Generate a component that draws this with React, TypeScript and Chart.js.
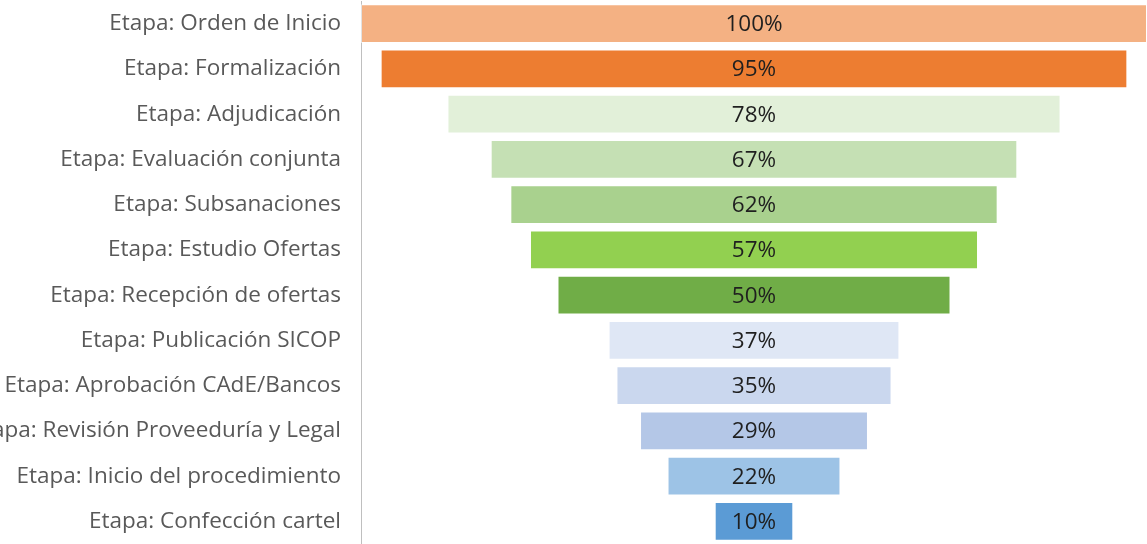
import React, { useEffect, useRef } from "react";
import { Chart, registerables } from "chart.js";

Chart.register(...registerables);

const stages = [
  "Etapa: Orden de Inicio",
  "Etapa: Formalización",
  "Etapa: Adjudicación",
  "Etapa: Evaluación conjunta",
  "Etapa: Subsanaciones",
  "Etapa: Estudio Ofertas",
  "Etapa: Recepción de ofertas",
  "Etapa: Publicación SICOP",
  "Etapa: Aprobación CAdE/Bancos",
  "Etapa: Revisión Proveeduría y Legal",
  "Etapa: Inicio del procedimiento",
  "Etapa: Confección cartel",
];

const percents = [100, 95, 78, 67, 62, 57, 50, 37, 35, 29, 22, 10];

const barColors = [
  "#F4B183",
  "#ED7D31",
  "#E2F0D9",
  "#C5E0B4",
  "#A9D18E",
  "#92D050",
  "#70AD47",
  "#DFE7F5",
  "#CAD7EE",
  "#B4C7E7",
  "#9DC3E6",
  "#5B9BD5",
];

const FONT = "'Open Sans', 'Noto Sans', sans-serif";

const centerLabels = {
  id: "centerLabels",
  afterDatasetsDraw(chart: any) {
    const ctx = chart.ctx;
    const meta = chart.getDatasetMeta(0);
    ctx.save();
    ctx.font = `22.5px ${FONT}`;
    ctx.fillStyle = "#1f1f1f";
    ctx.textAlign = "center";
    ctx.textBaseline = "middle";
    const xs = chart.scales.x;
    const cx = xs.getPixelForValue(0);
    meta.data.forEach((bar: any, i: number) => {
      ctx.fillText(percents[i] + "%", cx, bar.y + 1);
    });
    ctx.restore();
  },
};

export default function App() {
  const ref = useRef<HTMLCanvasElement | null>(null);
  useEffect(() => {
    if (!ref.current) return;
    const chart = new Chart(ref.current, {
      type: "bar",
      data: {
        labels: stages,
        datasets: [
          {
            data: percents.map((p) => [-p / 2, p / 2]) as any,
            backgroundColor: barColors,
            borderColor: "rgba(255,255,255,0.55)",
            borderWidth: 1,
            borderSkipped: false,
            barPercentage: 0.86,
            categoryPercentage: 1,
          },
        ],
      },
      options: {
        indexAxis: "y",
        animation: false,
        responsive: true,
        maintainAspectRatio: false,
        layout: { padding: { top: 1, bottom: -2, left: 0, right: 0 } },
        plugins: {
          legend: { display: false },
          tooltip: { enabled: false },
        },
        scales: {
          x: {
            display: false,
            min: -50,
            max: 50,
          },
          y: {
            grid: { display: false, drawTicks: false },
            border: { display: true, color: "#bfbfbf", width: 1 },
            ticks: {
              autoSkip: false,
              padding: 20,
              color: "#595959",
              font: { family: FONT, size: 22.5 },
            },
            afterFit(scale: any) {
              scale.width = 361;
              scale.paddingTop = 0;
              scale.paddingBottom = 0;
            },
          },
        },
      },
      plugins: [centerLabels],
    });
    return () => chart.destroy();
  }, []);
  return (
    <div
      style={{
        position: "absolute",
        left: 0,
        top: 0,
        width: 1147,
        height: 544,
        background: "#fff",
      }}
    >
      <canvas ref={ref} />
    </div>
  );
}
